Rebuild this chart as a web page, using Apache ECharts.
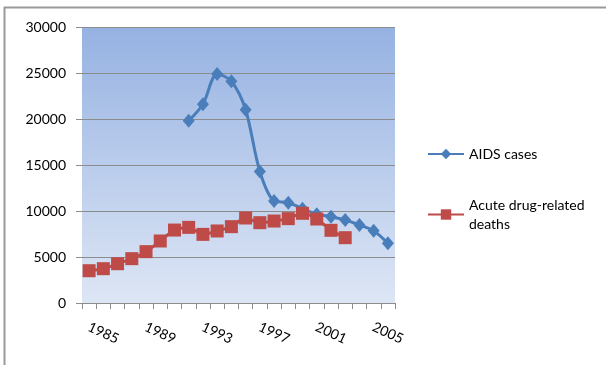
<!DOCTYPE html>
<html>
<head>
<meta charset="utf-8">
<script src="https://cdn.jsdelivr.net/npm/echarts@6/dist/echarts.min.js"></script>
<style>
  html, body { margin: 0; padding: 0; background: #fff; }
  #chart { width: 606px; height: 365px; }
</style>
</head>
<body>
<div id="chart"></div>
<script>
// Years on the category axis
const years = ['1984','1985','1986','1987','1988','1989','1990','1991','1992','1993','1994',
               '1995','1996','1997','1998','1999','2000','2001','2002','2003','2004','2005'];

// Reported AIDS cases (no data before 1991)
const aidsCases = [null, null, null, null, null, null, null,
  19800, 21600, 24900, 24100, 21000, 14300, 11100, 10900, 10250, 9650, 9380, 9020, 8480, 7860, 6490];

// Acute drug-related deaths (data through 2002)
const drugDeaths = [3510, 3730, 4270, 4820, 5580, 6740, 7930, 8220, 7460, 7830, 8300,
  9240, 8730, 8910, 9170, 9750, 9130, 7900, 7100, null, null, null];

// Value-axis range
const yMin = 0, yMax = 30000, yStep = 5000;

const FONT = 'Lato, "Open Sans", sans-serif';
const TEXT = '#000000';

const chart = echarts.init(document.getElementById('chart'), null, { renderer: 'canvas' });

chart.setOption({
  animation: false,
  backgroundColor: '#ffffff',
  graphic: [
    { type: 'line', shape: { x1: 4, y1: 7.5, x2: 606, y2: 7.5 }, style: { stroke: '#9a9a9a', lineWidth: 2 }, silent: true },
    { type: 'line', shape: { x1: 4.5, y1: 7, x2: 4.5, y2: 365 }, style: { stroke: '#9a9a9a', lineWidth: 2 }, silent: true }
  ],
  grid: {
    left: 82, top: 27, right: 211, bottom: 62,
    show: true,
    borderWidth: 0,
    backgroundColor: {
      type: 'linear', x: 0, y: 0, x2: 0, y2: 1,
      colorStops: [
        { offset: 0, color: '#96b2e2' },
        { offset: 1, color: '#dde6f5' }
      ]
    }
  },
  legend: [
    {
      data: ['AIDS cases'],
      orient: 'vertical',
      left: 422, top: 142,
      itemWidth: 36, itemHeight: 13,
      textStyle: { fontFamily: FONT, fontSize: 14, color: TEXT }
    },
    {
      data: ['Acute drug-related deaths'],
      orient: 'vertical',
      left: 422, top: 181,
      itemWidth: 36, itemHeight: 13,
      formatter: function (name) { return name.replace(' deaths', '\ndeaths'); },
      textStyle: { fontFamily: FONT, fontSize: 14, color: TEXT, lineHeight: 19, padding: [19, 0, 0, 0] }
    }
  ],
  xAxis: {
    type: 'category',
    data: years,
    boundaryGap: true,
    axisLine: { show: true, lineStyle: { color: '#8c8c8c', width: 1 } },
    axisTick: { show: true, interval: 0, length: 6, lineStyle: { color: '#8c8c8c' } },
    axisLabel: {
      interval: function (index) { return (index - 1) % 4 === 0; },
      rotate: -25,
      align: 'center',
      verticalAlign: 'middle',
      margin: 30,
      fontFamily: FONT,
      fontSize: 14,
      color: TEXT
    },
    splitLine: { show: false }
  },
  yAxis: {
    type: 'value',
    min: yMin, max: yMax, interval: yStep,
    axisLine: { show: false },
    axisTick: { show: true, length: 6, lineStyle: { color: '#8c8c8c' } },
    axisLabel: {
      margin: 16, fontFamily: FONT, fontSize: 14, color: TEXT,
      formatter: function (v) { return String(v); }
    },
    splitLine: { show: true, lineStyle: { color: '#8c8c8c', width: 1 } }
  },
  series: [
    {
      name: 'AIDS cases',
      type: 'line',
      data: aidsCases,
      smooth: 0.3,
      symbol: 'diamond',
      symbolSize: [12, 14],
      showAllSymbol: true,
      connectNulls: false,
      itemStyle: { color: '#4a7ebb' },
      lineStyle: { color: '#4a7ebb', width: 3 }
    },
    {
      name: 'Acute drug-related deaths',
      type: 'line',
      data: drugDeaths,
      smooth: 0.3,
      symbol: 'rect',
      symbolSize: 13,
      showAllSymbol: true,
      itemStyle: { color: '#be4b48' },
      lineStyle: { color: '#be4b48', width: 3 }
    }
  ]
});
</script>
</body>
</html>
